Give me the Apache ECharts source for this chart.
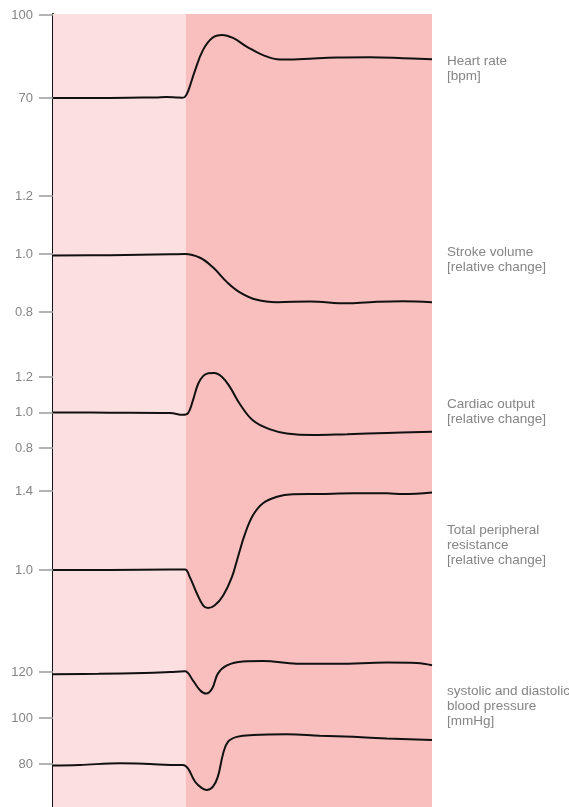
<!DOCTYPE html>
<html>
<head>
<meta charset="utf-8">
<script src="https://cdn.jsdelivr.net/npm/echarts@6/dist/echarts.min.js"></script>
<style>
html,body{margin:0;padding:0;background:#fff;}
#chart{width:569px;height:807px;}
</style>
</head>
<body>
<div id="chart"></div>
<script>
// ---- data (time in arbitrary units 0..100, stimulus from 35) ----
const phases = [[0, 35], [35, 100]];

const heartRate = [[0,70.0],[10,70.0],[20,70.1],[27,70.2],[30,70.35],[32.5,70.2],[34,70.1],[34.8,70.4],[35.6,72.3],[37.5,80.1],[39.6,87.4],[42,91.7],[44.6,92.8],[47.5,91.7],[51.2,88.5],[55.4,85.5],[59.9,83.9],[66,84.1],[74.9,84.6],[83.6,84.7],[92.3,84.4],[100,84.0]];

const strokeVolume = [[0,0.995],[15,0.996],[30.9,0.999],[34.8,1.0],[38.8,0.987],[42.2,0.954],[45.9,0.903],[49.3,0.868],[53.8,0.842],[59.1,0.834],[67.8,0.836],[77.6,0.830],[83.6,0.834],[92.3,0.837],[100,0.834]];

const cardiacOutput = [[0,1.0],[15,0.999],[30.9,0.997],[34.3,0.987],[35.6,0.995],[36.9,1.067],[38.3,1.162],[39.6,1.205],[41,1.221],[42.5,1.222],[44.6,1.2],[46.7,1.143],[49.3,1.048],[52.8,0.955],[57.3,0.905],[61.7,0.882],[68.6,0.873],[77.6,0.878],[88.1,0.885],[100,0.891]];

const peripheralResistance = [[0,1.0],[15,1.0],[30.9,1.002],[34.8,1.002],[36.1,0.964],[38,0.88],[39.6,0.821],[40.9,0.807],[42.7,0.821],[44.9,0.871],[47.2,0.964],[48.8,1.066],[50.7,1.185],[52.8,1.278],[55.4,1.338],[59.1,1.371],[63.3,1.383],[70.4,1.385],[79.2,1.388],[88.1,1.388],[92.3,1.385],[100,1.393]];

const systolic = [[0,119.0],[12,119.2],[24,119.6],[30.9,120.0],[34.8,120.3],[36.9,116.4],[38.8,112.1],[40.4,110.6],[42,112.8],[43.5,119.3],[45.9,122.9],[50.1,124.6],[55.4,124.8],[64.4,123.6],[74.9,123.6],[88.1,124.1],[96,123.9],[100,122.9]];

const diastolic = [[0,79.4],[7,79.6],[17.7,80.3],[25.6,80.0],[30.9,79.6],[34.3,79.6],[35.6,78.1],[37.5,72.3],[39.3,69.5],[40.6,68.7],[42.2,70.2],[43.5,74.5],[44.9,84.6],[46.2,89.7],[48.5,91.8],[52.8,92.6],[61.7,92.9],[70.4,92.3],[79.2,91.8],[88.1,91.1],[100,90.4]];

const hrTicks = [70, 100];
const svTicks = [0.8, 1.0, 1.2];
const coTicks = [0.8, 1.0, 1.2];
const tprTicks = [1.0, 1.4];
const bpTicks = [80, 100, 120];

const hrRange = [70, 100];
const svRange = [0.8, 1.2];
const coRange = [0.8, 1.2];
const tprRange = [1.0, 1.4];
const bpRange = [80, 120];

const panelLabels = [
  'Heart rate\n[bpm]',
  'Stroke volume\n[relative change]',
  'Cardiac output\n[relative change]',
  'Total peripheral\nresistance\n[relative change]',
  'systolic and diastolic\nblood pressure\n[mmHg]'
];

// ---- layout ----
const FONT = '"Liberation Sans", Arial, sans-serif';
const LEFT = 53, WIDTH = 379;
const panelBoxes = [
  {top: 15, height: 83},
  {top: 196, height: 116},
  {top: 377, height: 71},
  {top: 491, height: 79},
  {top: 672, height: 92}
];
const labelTops = [54, 245, 396.5, 522.5, 684];

const panels = [
  {ticks: hrTicks, range: hrRange, dec: 0, series: [heartRate]},
  {ticks: svTicks, range: svRange, dec: 1, series: [strokeVolume]},
  {ticks: coTicks, range: coRange, dec: 1, series: [cardiacOutput]},
  {ticks: tprTicks, range: tprRange, dec: 1, series: [peripheralResistance]},
  {ticks: bpTicks, range: bpRange, dec: 0, series: [systolic, diastolic]}
];

const grid = [{left: LEFT, width: WIDTH, top: 14, bottom: 0}];
const xAxis = [{gridIndex: 0, type: 'value', min: 0, max: 100, show: false}];
const yAxis = [{
  gridIndex: 0, type: 'value', min: 0, max: 1,
  axisLine: {show: true, lineStyle: {color: '#111', width: 2}},
  axisTick: {show: false}, axisLabel: {show: false}, splitLine: {show: false}
}];
const series = [{
  type: 'line', xAxisIndex: 0, yAxisIndex: 0, data: [], silent: true,
  markArea: {
    silent: true,
    data: [
      [{xAxis: phases[0][0], itemStyle: {color: '#fcdfe0'}}, {xAxis: phases[0][1]}],
      [{xAxis: phases[1][0], itemStyle: {color: '#f9bfbf'}}, {xAxis: phases[1][1]}]
    ]
  }
}];

panels.forEach((p, i) => {
  const gi = i + 1;
  grid.push({left: LEFT, width: WIDTH, top: panelBoxes[i].top, height: panelBoxes[i].height});
  xAxis.push({gridIndex: gi, type: 'value', min: 0, max: 100, show: false});
  yAxis.push({
    gridIndex: gi, type: 'value', min: p.range[0], max: p.range[1],
    axisLine: {show: false},
    splitLine: {show: false},
    axisTick: {show: true, length: 14, customValues: p.ticks, lineStyle: {color: '#9a9a9a', width: 1.5}},
    axisLabel: {show: true, customValues: p.ticks, margin: 20, color: '#858585', fontSize: 13, fontFamily: FONT,
      formatter: v => Number(v).toFixed(p.dec)}
  });
  p.series.forEach(d => {
    series.push({
      type: 'line', xAxisIndex: gi, yAxisIndex: gi, data: d,
      smooth: 0.4, showSymbol: false, clip: false, silent: true,
      lineStyle: {color: '#111', width: 2}
    });
  });
});

const graphic = panelLabels.map((t, i) => ({
  type: 'text', left: 447, top: labelTops[i],
  style: {text: t, font: '13.5px ' + FONT, fill: '#858585', lineHeight: 15}
}));

const chart = echarts.init(document.getElementById('chart'), null, {renderer: 'canvas'});
chart.setOption({animation: false, grid, xAxis, yAxis, series, graphic});
</script>
</body>
</html>
